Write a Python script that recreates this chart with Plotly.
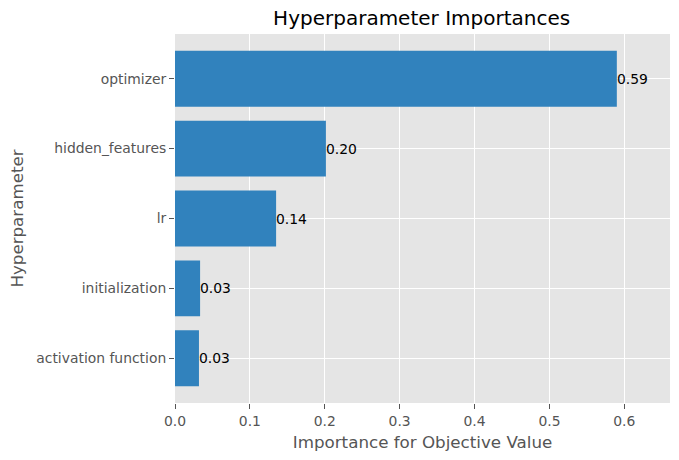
import plotly.graph_objects as go

params = ["activation function", "initialization", "lr", "hidden_features", "optimizer"]
importances = [0.032, 0.0335, 0.135, 0.2015, 0.590]
labels = ["0.03", "0.03", "0.14", "0.20", "0.59"]
xticks = [0.0, 0.1, 0.2, 0.3, 0.4, 0.5, 0.6]

FONT = "DejaVu Sans"
GRAY = "#555555"

fig = go.Figure()
fig.add_trace(go.Bar(
    x=importances, y=params, orientation="h", width=0.8,
    marker=dict(color="#3182bd", line=dict(width=0)),
    hoverinfo="x+y",
))
for v, p, t in zip(importances, params, labels):
    fig.add_annotation(x=v, y=p, text=t, showarrow=False, xanchor="left",
                       yanchor="middle", font=dict(family=FONT, size=13.9, color="black"),
                       borderpad=0, xshift=-1)

fig.update_layout(
    width=679, height=460,
    margin=dict(l=175, r=9, t=34, b=57),
    paper_bgcolor="white", plot_bgcolor="#E5E5E5",
    font=dict(family=FONT, color=GRAY, size=13.9),
    showlegend=False,
    title=dict(text="Hyperparameter Importances", x=0.621, xanchor="center",
               y=0.96, yanchor="middle", font=dict(family=FONT, size=20, color="black")),
    bargap=0.2,
)
fig.update_xaxes(
    range=[0, 0.661], tickvals=xticks, tickformat=".1f",
    showgrid=True, gridcolor="white", gridwidth=1.1, zeroline=False,
    ticks="outside", ticklen=5, tickcolor=GRAY, tickwidth=1,
    tickfont=dict(family=FONT, size=13.9, color=GRAY),
    title=dict(text="Importance for Objective Value", font=dict(family=FONT, size=16.7, color=GRAY), standoff=8),
    showline=False, automargin=False,
)
fig.update_yaxes(
    type="category", categoryorder="array", categoryarray=params,
    range=[-0.64, 4.64],
    showgrid=True, gridcolor="white", gridwidth=1.1, zeroline=False,
    ticks="outside", ticklen=5, tickcolor=GRAY, tickwidth=1,
    tickfont=dict(family=FONT, size=13.9, color=GRAY),
    title=dict(text="Hyperparameter", font=dict(family=FONT, size=16.7, color=GRAY), standoff=8),
    showline=False, automargin=False,
)

fig.write_html("out.html")
